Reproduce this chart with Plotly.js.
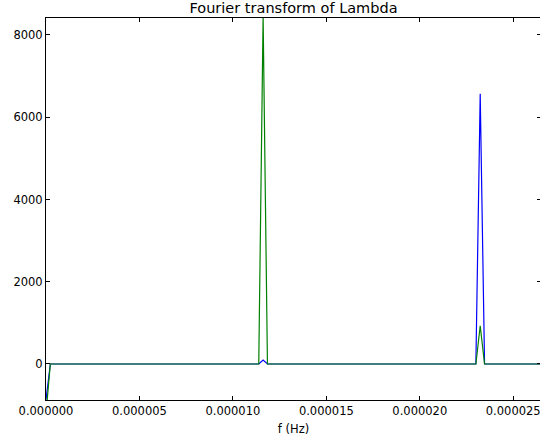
<!DOCTYPE html>
<html>
<head>
<meta charset="utf-8">
<script src="https://cdn.plot.ly/plotly-3.0.1.min.js"></script>
<style>
html, body { margin: 0; padding: 0; overflow: hidden; background: #fff; }
#chart { width: 543px; height: 437px; }
</style>
</head>
<body>
<div id="chart"></div>
<script>
// Frequency bin spacing (Hz) and first bin
var freqStart = 0;
var freqStep = 2.3233e-7;

// Tick labels for the x axis
var xTickVals = [0, 0.000005, 0.00001, 0.000015, 0.00002, 0.000025];
var xTickText = ["0.000000", "0.000005", "0.000010", "0.000015", "0.000020", "0.000025"];
var yTickVals = [0, 2000, 4000, 6000, 8000];

// Blue series (115 bins)
var blueValues = [
  -870, 0, 0, 0, 0, 0, 0, 0, 0, 0,
  0, 0, 0, 0, 0, 0, 0, 0, 0, 0,
  0, 0, 0, 0, 0, 0, 0, 0, 0, 0,
  0, 0, 0, 0, 0, 0, 0, 0, 0, 0,
  0, 0, 0, 0, 0, 0, 0, 0, 0, 0,
  97, 0, 0, 0, 0, 0, 0, 0, 0, 0,
  0, 0, 0, 0, 0, 0, 0, 0, 0, 0,
  0, 0, 0, 0, 0, 0, 0, 0, 0, 0,
  0, 0, 0, 0, 0, 0, 0, 0, 0, 0,
  0, 0, 0, 0, 0, 0, 0, 0, 0, 0,
  6570, 0, 0, 0, 0, 0, 0, 0, 0, 0,
  0, 0, 0, 0, 0
];

// Green series (115 bins)
var greenValues = [
  -1200, 0, 0, 0, 0, 0, 0, 0, 0, 0,
  0, 0, 0, 0, 0, 0, 0, 0, 0, 0,
  0, 0, 0, 0, 0, 0, 0, 0, 0, 0,
  0, 0, 0, 0, 0, 0, 0, 0, 0, 0,
  0, 0, 0, 0, 0, 0, 0, 0, 0, 0,
  8450, 0, 0, 0, 0, 0, 0, 0, 0, 0,
  0, 0, 0, 0, 0, 0, 0, 0, 0, 0,
  0, 0, 0, 0, 0, 0, 0, 0, 0, 0,
  0, 0, 0, 0, 0, 0, 0, 0, 0, 0,
  0, 0, 0, 0, 0, 0, 0, 0, 0, 0,
  930, 0, 0, 0, 0, 0, 0, 0, 0, 0,
  0, 0, 0, 0, 0
];

var xMax = freqStep * (blueValues.length - 1);

var traces = [
  { type: 'scatter', mode: 'lines', x0: freqStart, dx: freqStep, y: blueValues,
    line: { color: '#0000ff', width: 1.2 }, hoverinfo: 'none' },
  { type: 'scatter', mode: 'lines', x0: freqStart, dx: freqStep, y: greenValues,
    line: { color: '#008000', width: 1.2 }, hoverinfo: 'none' }
];

var font = { family: 'DejaVu Sans, sans-serif', size: 11.5, color: '#000' };

var layout = {
  width: 543, height: 437,
  margin: { l: 46, r: 2, t: 18, b: 37 },
  paper_bgcolor: '#fff', plot_bgcolor: '#fff',
  showlegend: false,
  font: font,
  title: { text: 'Fourier transform of Lambda', font: { family: 'DejaVu Sans, sans-serif', size: 14.5, color: '#000' },
           x: 0.5, xref: 'paper', y: 1, yref: 'paper', yanchor: 'bottom', pad: { b: 5 } },
  xaxis: {
    range: [0, xMax], tickvals: xTickVals, ticktext: xTickText,
    showgrid: false, zeroline: false, showline: true, linecolor: '#000', linewidth: 1,
    mirror: 'ticks', ticks: 'inside', ticklen: 4, tickcolor: '#000',
    title: { text: 'f (Hz)', font: font, standoff: 8 }, tickfont: font
  },
  yaxis: {
    range: [-876, 8413], tickvals: yTickVals,
    showgrid: false, zeroline: false, showline: true, linecolor: '#000', linewidth: 1,
    mirror: 'ticks', ticks: 'inside', ticklen: 4, tickcolor: '#000', tickfont: font
  }
};

Plotly.newPlot('chart', traces, layout, { displayModeBar: false, staticPlot: true });
</script>
</body>
</html>
